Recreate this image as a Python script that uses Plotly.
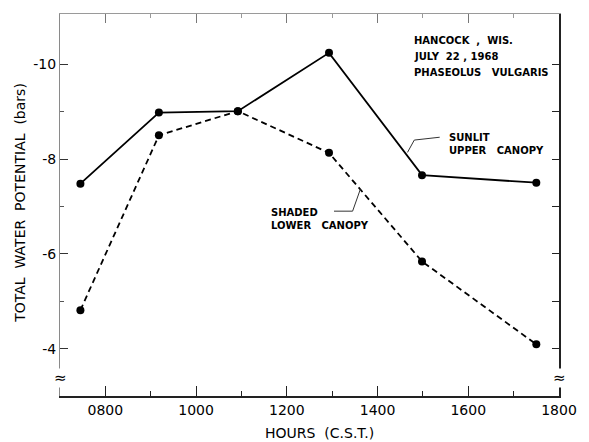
import plotly.graph_objects as go

# ---- data ----
hours = [745, 918, 1092, 1293, 1498, 1750]
sunlit_upper = [-7.48, -8.98, -9.01, -10.24, -7.66, -7.50]
shaded_lower = [-4.81, -8.50, -9.01, -8.13, -5.84, -4.09]

x_major = [800, 1000, 1200, 1400, 1600, 1800]
x_major_labels = ["0800", "1000", "1200", "1400", "1600", "1800"]
x_minor = [900, 1100, 1300, 1500, 1700]
y_major = [-10, -8, -6, -4]
y_major_labels = ["-10", "-8", "-6", "-4"]
y_minor = [-9, -7, -5]
y_right_ticks = [-10, -9, -8, -7, -6, -5, -4]

X_RANGE = [700, 1800]
Y_RANGE = [-3.0, -11.06]

FONT = "DejaVu Sans"

fig = go.Figure()
fig.add_trace(go.Scatter(
    x=hours, y=sunlit_upper, mode="lines+markers", name="Sunlit upper canopy",
    line=dict(color="black", width=1.8),
    marker=dict(color="black", size=8), showlegend=False))
fig.add_trace(go.Scatter(
    x=hours, y=shaded_lower, mode="lines+markers", name="Shaded lower canopy",
    line=dict(color="black", width=1.8, dash="6px,4px"),
    marker=dict(color="black", size=8), showlegend=False))

fig.update_layout(
    width=589, height=442,
    margin=dict(l=60, r=21, t=14, b=46),
    paper_bgcolor="white", plot_bgcolor="white",
    font=dict(family=FONT, color="black", size=13),
    xaxis=dict(
        range=X_RANGE, showgrid=False, zeroline=False,
        showline=True, linecolor="#222", linewidth=1.5,
        ticks="inside", ticklen=10, tickwidth=1.2, tickcolor="#222",
        tickvals=x_major, ticktext=x_major_labels,
        tickfont=dict(size=14, family=FONT),
        minor=dict(tickvals=x_minor, ticks="inside", ticklen=5,
                   tickwidth=1, tickcolor="#222"),
    ),
    xaxis2=dict(
        range=X_RANGE, overlaying="x", side="top", showgrid=False,
        zeroline=False, showline=True, linecolor="#9a9a9a", linewidth=1,
        ticks="inside", ticklen=9, tickwidth=1, tickcolor="#777",
        tickvals=x_major, showticklabels=False,
        minor=dict(tickvals=x_minor, ticks="inside", ticklen=4,
                   tickwidth=1, tickcolor="#999"),
    ),
    yaxis=dict(
        range=Y_RANGE, showgrid=False, zeroline=False,
        showline=True, linecolor="#8a8a8a", linewidth=1,
        ticks="inside", ticklen=8, tickwidth=1.2, tickcolor="#333",
        tickvals=y_major, ticktext=y_major_labels,
        tickfont=dict(size=14, family=FONT),
        minor=dict(tickvals=y_minor, ticks="inside", ticklen=4,
                   tickwidth=1, tickcolor="#555"),
    ),
    yaxis2=dict(
        range=Y_RANGE, overlaying="y", side="right", showgrid=False,
        zeroline=False, showline=True, linecolor="#222", linewidth=1.5,
        ticks="inside", ticklen=7, tickwidth=1.2, tickcolor="#222",
        tickvals=y_right_ticks, showticklabels=False,
    ),
)

# invisible trace so the mirror axes render
fig.add_trace(go.Scatter(x=[None], y=[None], xaxis="x2", yaxis="y2",
                         showlegend=False, hoverinfo="skip"))

ann_font = dict(family=FONT, size=10, color="black")
info = ["<b>HANCOCK  ,  WIS.</b>", "<b>JULY  22 , 1968</b>", "<b>PHASEOLUS   VULGARIS</b>"]
info_y = [-10.5, -10.17, -9.83]
for t, yy in zip(info, info_y):
    fig.add_annotation(x=1476, y=yy, xref="x", yref="y", text=t,
                       showarrow=False, xanchor="left", yanchor="middle",
                       font=ann_font)

fig.add_annotation(x=1554, y=-8.32, xref="x", yref="y",
                   text="<b>SUNLIT</b><br><b>UPPER   CANOPY</b>",
                   showarrow=False, xanchor="left", yanchor="middle",
                   align="left", font=ann_font)
fig.add_annotation(x=1160, y=-6.73, xref="x", yref="y",
                   text="<b>SHADED</b><br><b>LOWER   CANOPY</b>",
                   showarrow=False, xanchor="left", yanchor="middle",
                   align="left", font=ann_font)

# leader lines
fig.add_shape(type="path", xref="x", yref="y",
              path="M 1466,-8.14 L 1481,-8.40 L 1537,-8.46",
              line=dict(color="#333", width=1))
fig.add_shape(type="path", xref="x", yref="y",
              path="M 1304,-6.90 L 1345,-6.90 L 1362,-7.36",
              line=dict(color="#333", width=1))

# axis break marks
for xp in [0, 1]:
    fig.add_annotation(x=xp, y=-3.38, xref="paper", yref="y", text="≈",
                       showarrow=False, xanchor="center", yanchor="middle",
                       font=dict(family=FONT, size=15),
                       bgcolor="white", borderpad=0)

# axis titles
fig.add_annotation(x=-0.080, y=0.506, xref="paper", yref="paper",
                   text="TOTAL  WATER  POTENTIAL  (bars)", textangle=-90,
                   showarrow=False, xanchor="center", yanchor="middle",
                   font=dict(family=FONT, size=14))
fig.add_annotation(x=0.52, y=-0.098, xref="paper", yref="paper",
                   text="HOURS  (C.S.T.)", showarrow=False,
                   xanchor="center", yanchor="middle",
                   font=dict(family=FONT, size=14))

fig.write_html("out.html")
